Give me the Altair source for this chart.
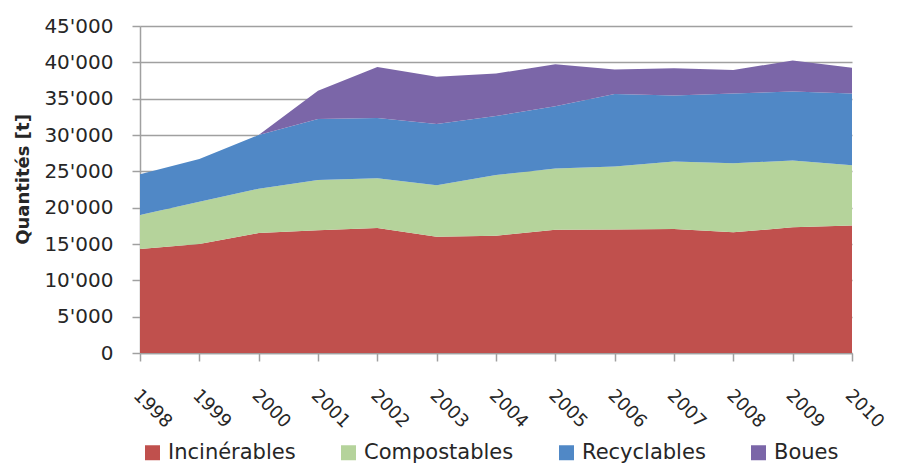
import altair as alt
import pandas as pd

years = ["1998", "1999", "2000", "2001", "2002", "2003", "2004",
         "2005", "2006", "2007", "2008", "2009", "2010"]
series = ["Incinérables", "Compostables", "Recyclables", "Boues"]
colors = ["#C0504D", "#B5D39B", "#5088C6", "#7B66A8"]

incinerables = [14300, 15000, 16500, 16900, 17200, 16000, 16150, 16950, 17000, 17050, 16600, 17300, 17550]
compostables = [4700, 5800, 6100, 6900, 6850, 7100, 8350, 8450, 8650, 9300, 9500, 9200, 8300]
recyclables = [5600, 5900, 7400, 8400, 8300, 8400, 8100, 8550, 10000, 9100, 9600, 9500, 9850]
boues = [0, 0, 0, 3900, 7000, 6500, 5850, 5800, 3350, 3750, 3250, 4250, 3550]

values = [incinerables, compostables, recyclables, boues]
rows = []
for k, (name, vals) in enumerate(zip(series, values)):
    for y, v in zip(years, vals):
        rows.append({"Année": y, "Type": name, "Quantité": v, "k": k})
df = pd.DataFrame(rows)

FONT = "DejaVu Sans"
GRAY = "#A0A0A0"
TXT = "#262626"

chart = alt.Chart(df).mark_area(opacity=1).encode(
    x=alt.X("Année:O", scale=alt.Scale(padding=0),
            axis=alt.Axis(title=None, labelAngle=45, labelAlign="left",
                          labelBaseline="top", labelPadding=25,
                          labelOffset=2,
                          labelFontSize=18, labelFont=FONT, labelColor=TXT,
                          tickSize=8, tickColor=GRAY, tickWidth=1.5,
                          domainColor=GRAY, domainWidth=1.5, grid=False)),
    y=alt.Y("Quantité:Q", stack="zero",
            scale=alt.Scale(domain=[0, 45000], nice=False),
            axis=alt.Axis(title="Quantités [t]", values=list(range(0, 45001, 5000)),
                          labelExpr="replace(format(datum.value, ','), ',', \"'\")",
                          labelFontSize=20, labelFont=FONT, labelColor=TXT,
                          labelPadding=19,
                          tickSize=8, tickColor=GRAY, tickWidth=1.5,
                          domainColor=GRAY, domainWidth=1.5,
                          gridColor=GRAY, gridWidth=1.5,
                          titleFont=FONT, titleFontSize=18, titleFontWeight="bold",
                          titleColor=TXT, titleX=-117, titleY=153,
                          titleAlign="center", titleBaseline="middle", titleAngle=-90)),
    color=alt.Color("Type:N", scale=alt.Scale(domain=series, range=colors),
                    legend=alt.Legend(title=None, orient="none", direction="horizontal",
                                      legendX=2, legendY=416, padding=0,
                                      symbolType="square", symbolSize=225,
                                      symbolStrokeWidth=0, symbolOpacity=1,
                                      labelFont=FONT, labelFontSize=21, labelColor=TXT,
                                      labelOffset=5, columnPadding=42)),
    order=alt.Order("k:Q", sort="ascending"),
).properties(
    width=712, height=327,
    autosize=alt.AutoSizeParams(type="none"),
    padding={"left": 132, "top": 18, "right": 37, "bottom": 110},
).configure_view(stroke=None)

chart.save("out.html", embed_options={"renderer": "svg", "actions": False})
